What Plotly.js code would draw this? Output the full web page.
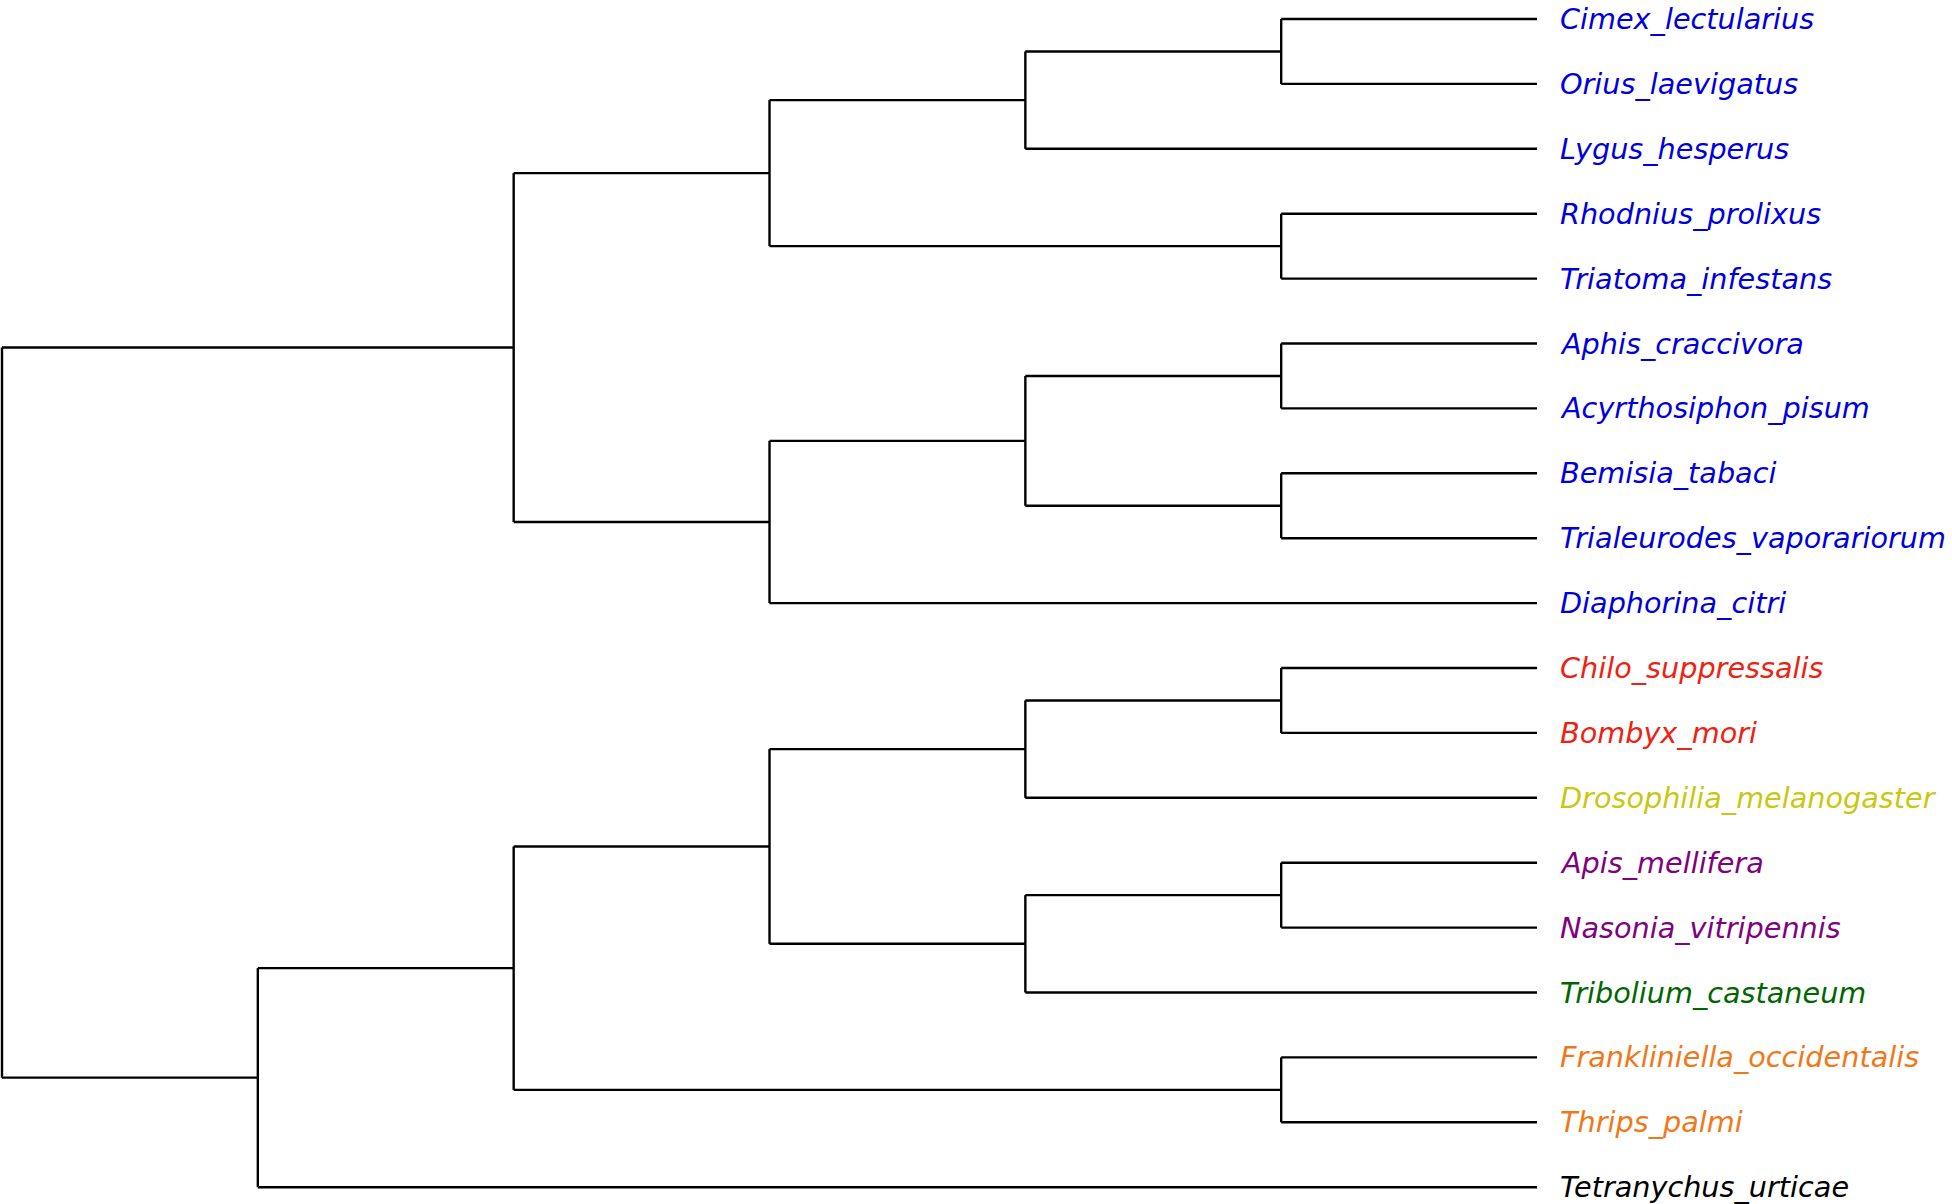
<!DOCTYPE html>
<html>
<head>
<meta charset="utf-8">
<script src="https://cdn.plot.ly/plotly-3.0.1.min.js"></script>
<style>
  html, body { margin: 0; padding: 0; background: #fff; }
  #tree { width: 1952px; height: 1204px; }
</style>
</head>
<body>
<div id="tree"></div>
<script>
// tree topology, leaves in drawing order (top to bottom)
var newick = '(' +
  '((((Cimex_lectularius,Orius_laevigatus),Lygus_hesperus),(Rhodnius_prolixus,Triatoma_infestans)),' +
  '(((Aphis_craccivora,Acyrthosiphon_pisum),(Bemisia_tabaci,Trialeurodes_vaporariorum)),Diaphorina_citri)),' +
  '(((((Chilo_suppressalis,Bombyx_mori),Drosophilia_melanogaster),((Apis_mellifera,Nasonia_vitripennis),Tribolium_castaneum)),' +
  '(Frankliniella_occidentalis,Thrips_palmi)),Tetranychus_urticae));';

// label colour groups
var hemiptera = ['Cimex_lectularius', 'Orius_laevigatus', 'Lygus_hesperus', 'Rhodnius_prolixus',
  'Triatoma_infestans', 'Aphis_craccivora', 'Acyrthosiphon_pisum', 'Bemisia_tabaci',
  'Trialeurodes_vaporariorum', 'Diaphorina_citri'];
var lepidoptera = ['Chilo_suppressalis', 'Bombyx_mori'];
var diptera = ['Drosophilia_melanogaster'];
var hymenoptera = ['Apis_mellifera', 'Nasonia_vitripennis'];
var coleoptera = ['Tribolium_castaneum'];
var thysanoptera = ['Frankliniella_occidentalis', 'Thrips_palmi'];
var acari = ['Tetranychus_urticae'];

var groupColors = [
  [hemiptera, '#0000dd'],
  [lepidoptera, '#ee2211'],
  [diptera, '#c8c810'],
  [hymenoptera, '#800080'],
  [coleoptera, '#006600'],
  [thysanoptera, '#f07818'],
  [acari, '#000000']
];

function colorOf(name) {
  for (var i = 0; i < groupColors.length; i++) {
    if (groupColors[i][0].indexOf(name) >= 0) return groupColors[i][1];
  }
  return '#000';
}

// minimal newick parser
function parseNewick(s) {
  var pos = 0;
  function node() {
    var n = { children: [] };
    if (s[pos] === '(') {
      pos++;
      n.children.push(node());
      while (s[pos] === ',') { pos++; n.children.push(node()); }
      pos++; // ')'
    }
    var name = '';
    while (pos < s.length && ',();'.indexOf(s[pos]) < 0) name += s[pos++];
    n.name = name;
    return n;
  }
  return node();
}

var root = parseNewick(newick);

// leaf order and node heights
var leaves = [];
function height(n) {
  if (!n.children.length) {
    n.h = 0;
    n.y = leaves.length;
    leaves.push(n);
    return 0;
  }
  n.h = 1 + Math.max.apply(null, n.children.map(height));
  n.y = (n.children[0].y + n.children[n.children.length - 1].y) / 2;
  return n.h;
}
var maxH = height(root);

var xs = [], ys = [];
function walk(n) {
  n.x = maxH - n.h;
  if (!n.children.length) return;
  n.children.forEach(function (c) { c.x = maxH - c.h; });
  xs.push(n.x, n.x, null);
  ys.push(n.children[0].y, n.children[n.children.length - 1].y, null);
  n.children.forEach(function (c) {
    xs.push(n.x, c.x, null);
    ys.push(c.y, c.y, null);
    walk(c);
  });
}
walk(root);

var branches = {
  x: xs, y: ys,
  mode: 'lines',
  type: 'scatter',
  hoverinfo: 'skip',
  line: { color: '#000', width: 2.4 },
  cliponaxis: false,
  showlegend: false
};

var annotations = leaves.map(function (l) {
  return {
    x: l.x, y: l.y,
    text: l.name,
    showarrow: false,
    xanchor: 'left',
    yanchor: 'middle',
    xshift: 21,
    font: { family: 'DejaVu Sans', size: 28.7, color: colorOf(l.name), style: 'italic' }
  };
});

var layout = {
  width: 1952,
  height: 1204,
  margin: { l: 0, r: 0, t: 0, b: 0 },
  paper_bgcolor: '#fff',
  plot_bgcolor: '#fff',
  showlegend: false,
  xaxis: { range: [-0.0078, 7.622], visible: false, showgrid: false, zeroline: false },
  yaxis: { range: [18.259, -0.293], visible: false, showgrid: false, zeroline: false },
  annotations: annotations
};

Plotly.newPlot('tree', [branches], layout, { displayModeBar: false, staticPlot: true });
</script>
</body>
</html>
